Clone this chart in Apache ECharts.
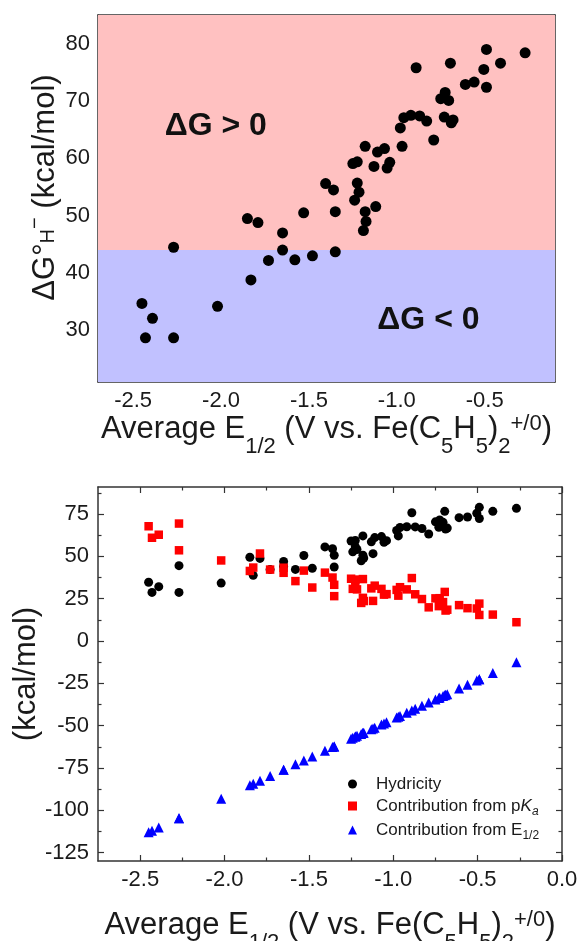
<!DOCTYPE html>
<html><head><meta charset="utf-8">
<script src="https://cdn.jsdelivr.net/npm/echarts@6/dist/echarts.min.js"></script>
<style>html,body{margin:0;padding:0;background:#fff}#c{width:579px;height:941px}</style>
</head><body><div id="c"></div>
<script>
// ---------- data ----------
const e12 = [-2.45,-2.43,-2.39,-2.27,-2.27,-2.02,-1.85,-1.83,-1.79,-1.73,-1.65,-1.65,-1.58,-1.53,-1.48,-1.405,-1.36,-1.35,-1.35,-1.25,-1.225,-1.225,-1.215,-1.24,-1.18,-1.18,-1.175,-1.19,-1.12,-1.13,-1.11,-1.07,-1.055,-1.04,-0.97,-0.98,-0.96,-0.92,-0.87,-0.83,-0.89,-0.79,-0.75,-0.725,-0.705,-0.73,-0.69,-0.68,-0.695,-0.61,-0.56,-0.505,-0.49,-0.49,-0.41,-0.27];
const hydricity = [34.7,28.7,32.1,44.5,28.7,34.2,49.5,38.8,48.8,42.2,47.0,44.0,42.3,50.5,43.0,55.6,54.5,50.7,43.7,59.1,59.4,55.7,54.1,52.7,62.1,50.7,49.0,47.4,51.6,58.6,61.1,61.7,58.3,59.3,62.1,65.3,67.1,67.5,67.4,66.5,75.8,63.2,70.4,71.5,70.1,67.2,66.2,66.7,76.6,72.9,73.3,75.5,79.0,72.4,76.6,78.4];
const pKaContribution = [67.8,61.0,62.8,69.4,53.6,47.6,41.4,43.4,51.7,42.2,43.3,40.3,35.4,41.6,31.6,40.4,37.5,33.2,26.5,36.8,36.3,32.6,30.5,30.8,36.6,25.5,23.6,22.5,23.7,31.1,32.7,30.8,27.4,27.7,26.8,30.2,31.8,30.5,27.6,24.8,37.2,19.9,25.2,25.3,23.0,20.6,18.0,18.5,29.0,21.2,19.4,19.2,22.1,15.4,15.6,11.1];
const e12Contribution = [-113.0,-112.1,-110.2,-104.7,-104.7,-93.2,-85.3,-84.4,-82.6,-79.8,-76.1,-76.1,-72.9,-70.6,-68.3,-64.8,-62.7,-62.3,-62.3,-57.7,-56.5,-56.5,-56.0,-57.2,-54.4,-54.4,-54.2,-54.9,-51.7,-52.1,-51.2,-49.3,-48.7,-48.0,-44.7,-45.2,-44.3,-42.4,-40.1,-38.3,-41.0,-36.4,-34.6,-33.4,-32.5,-33.7,-31.8,-31.4,-32.1,-28.1,-25.8,-23.3,-22.6,-22.6,-18.9,-12.5];

// top panel shaded regions (kcal/mol) and annotations
const regionLow = 21, regionSplit = 44, regionHigh = 85;
const annotations = [{text: 'ΔG > 0', at: [-2.03, 65.7]}, {text: 'ΔG < 0', at: [-0.82, 31.8]}];

// axis ranges and ticks
const topX = {min: -2.7, max: -0.1, major: [-2.5,-2.0,-1.5,-1.0,-0.5], minor: [-2.25,-1.75,-1.25,-0.75,-0.25]};
const topY = {min: 21, max: 85, major: [30,40,50,60,70,80], minor: [25,35,45,55,65,75]};
const botX = {min: -2.75, max: 0, major: [-2.5,-2.0,-1.5,-1.0,-0.5,0.0], minor: [-2.25,-1.75,-1.25,-0.75,-0.25]};
const botY = {min: -130, max: 91, major: [-125,-100,-75,-50,-25,0,25,50,75], minor: [-112.5,-87.5,-62.5,-37.5,-12.5,12.5,37.5,62.5,87.5]};

const seriesNames = ['Hydricity', 'Contribution from pKa', 'Contribution from E1/2'];

// ---------- styling ----------
const FONT = '"Liberation Sans", Arial, Helvetica, sans-serif';
const TXT = '#1a1a1a';
const FRAME = '#333333';

const richTitle = {
  t: {fontSize: 31, lineHeight: 36, fontFamily: FONT, color: TXT},
  s: {fontSize: 22, lineHeight: 20, padding: [36, 0, 0, 0], fontFamily: FONT, color: TXT},
  p: {fontSize: 22, lineHeight: 20, padding: [0, 0, 11, 0], fontFamily: FONT, color: TXT},
  h: {fontSize: 20, lineHeight: 20, padding: [6, 0, 0, 0], fontFamily: FONT, color: TXT},
  m: {fontSize: 20, lineHeight: 20, padding: [0, 0, 20, 0], fontFamily: FONT, color: TXT}
};
const xTitle = '{t|Average E}{s|1/2}{t| (V vs. Fe(C}{s|5}{t|H}{s|5}{t|)}{s|2}{p|+/0}{t|)}';
const yTitleTop = '{t|ΔG°}{h|H}{m|−}{t| (kcal/mol)}';
const yTitleBot = '{t|(kcal/mol)}';

function axes(dim, gridIndex, r, o) {
  const isX = dim === 'x';
  const posA = isX ? 'bottom' : 'left', posB = isX ? 'top' : 'right';
  const base = {type: 'value', gridIndex, min: r.min, max: r.max, splitLine: {show: false}, axisPointer: {show: false}};
  const tick = (vals, len) => ({show: true, inside: true, length: len, customValues: vals, lineStyle: {color: FRAME, width: 1.2}});
  const line = {show: true, onZero: false, lineStyle: {color: FRAME, width: 1.5}};
  const noLine = {show: false, onZero: false};
  return [
    Object.assign({}, base, {
      position: posA, axisLine: line, axisTick: tick(r.major, 6),
      axisLabel: {show: true, customValues: r.major, fontSize: o.labelSize, color: TXT, fontFamily: FONT, margin: o.margin,
        formatter: v => isX ? Number(v).toFixed(1) : String(v)},
      name: o.name, nameLocation: 'middle', nameGap: o.nameGap, nameMoveOverlap: false,
      nameTextStyle: {rich: richTitle, padding: o.namePad || 0}
    }),
    Object.assign({}, base, {position: posA, axisLine: noLine, axisTick: tick(r.minor, 3.5), axisLabel: {show: false}}),
    Object.assign({}, base, {position: posB, axisLine: line, axisTick: tick(r.major, 6), axisLabel: {show: false}}),
    Object.assign({}, base, {position: posB, axisLine: noLine, axisTick: tick(r.minor, 3.5), axisLabel: {show: false}})
  ];
}

const xAxes = axes('x', 0, topX, {labelSize: 22, margin: 8, name: xTitle, nameGap: 29})
  .concat(axes('x', 1, botX, {labelSize: 22, margin: 8, name: xTitle, nameGap: 46}));
const yAxes = axes('y', 0, topY, {labelSize: 22, margin: 8, name: yTitleTop, nameGap: 35, namePad: [0, 0, 0, 22]})
  .concat(axes('y', 1, botY, {labelSize: 22, margin: 9, name: yTitleBot, nameGap: 54}));

const pairs = ys => e12.map((x, i) => [x, ys[i]]);

const legendRich = {
  n: {fontSize: 17, lineHeight: 20, padding: [0, 0, 0, 14], fontFamily: FONT, color: TXT},
  i: {fontSize: 17, lineHeight: 20, fontStyle: 'italic', fontFamily: FONT, color: TXT},
  a: {fontSize: 12, lineHeight: 14, fontStyle: 'italic', padding: [12, 0, 0, 0], fontFamily: FONT, color: TXT},
  s: {fontSize: 12, lineHeight: 14, padding: [12, 0, 0, 0], fontFamily: FONT, color: TXT}
};
const legendText = {
  'Hydricity': '{n|Hydricity}',
  'Contribution from pKa': '{n|Contribution from p}{i|K}{a|a}',
  'Contribution from E1/2': '{n|Contribution from E}{s|1/2}'
};

const option = {
  animation: false,
  backgroundColor: '#ffffff',
  grid: [
    {left: 98, top: 15, width: 457, height: 367, containLabel: false, outerBoundsMode: 'none'},
    {left: 98, top: 487, width: 464, height: 374, containLabel: false, outerBoundsMode: 'none'}
  ],
  xAxis: xAxes,
  yAxis: yAxes,
  legend: {
    data: seriesNames, orient: 'vertical', left: 343, top: 769,
    itemWidth: 9, itemHeight: 9, itemGap: 0, selectedMode: false,
    formatter: name => legendText[name],
    textStyle: {fontSize: 17, color: TXT, fontFamily: FONT, lineHeight: 20, rich: legendRich}
  },
  series: [
    {
      name: 'top-hydricity', type: 'scatter', xAxisIndex: 0, yAxisIndex: 0,
      symbol: 'circle', symbolSize: 11, itemStyle: {color: '#000000', opacity: 1},
      data: pairs(hydricity),
      markArea: {
        silent: true,
        data: [
          [{yAxis: regionSplit, itemStyle: {color: '#ffc1c1', opacity: 1}}, {yAxis: regionHigh}],
          [{yAxis: regionLow, itemStyle: {color: '#c1c1ff', opacity: 1}}, {yAxis: regionSplit}]
        ]
      },
      markPoint: {
        silent: true, symbol: 'circle', symbolSize: 1, itemStyle: {color: 'rgba(0,0,0,0)'},
        label: {show: true, position: 'inside', fontSize: 32, fontWeight: 'bold', color: '#111', fontFamily: FONT},
        data: annotations.map(a => ({coord: a.at, label: {formatter: a.text}}))
      }
    },
    {
      name: seriesNames[0], type: 'scatter', xAxisIndex: 4, yAxisIndex: 4,
      symbol: 'circle', symbolSize: 9, itemStyle: {color: '#000000', opacity: 1},
      data: pairs(hydricity)
    },
    {
      name: seriesNames[1], type: 'scatter', xAxisIndex: 4, yAxisIndex: 4,
      symbol: 'rect', symbolSize: 8.5, itemStyle: {color: '#ff0000', opacity: 1},
      data: pairs(pKaContribution)
    },
    {
      name: seriesNames[2], type: 'scatter', xAxisIndex: 4, yAxisIndex: 4,
      symbol: 'triangle', symbolSize: 10, itemStyle: {color: '#0000ff', opacity: 1},
      data: pairs(e12Contribution)
    }
  ]
};

const chart = echarts.init(document.getElementById('c'), null, {renderer: 'canvas'});
chart.setOption(option);
</script>
</body></html>
